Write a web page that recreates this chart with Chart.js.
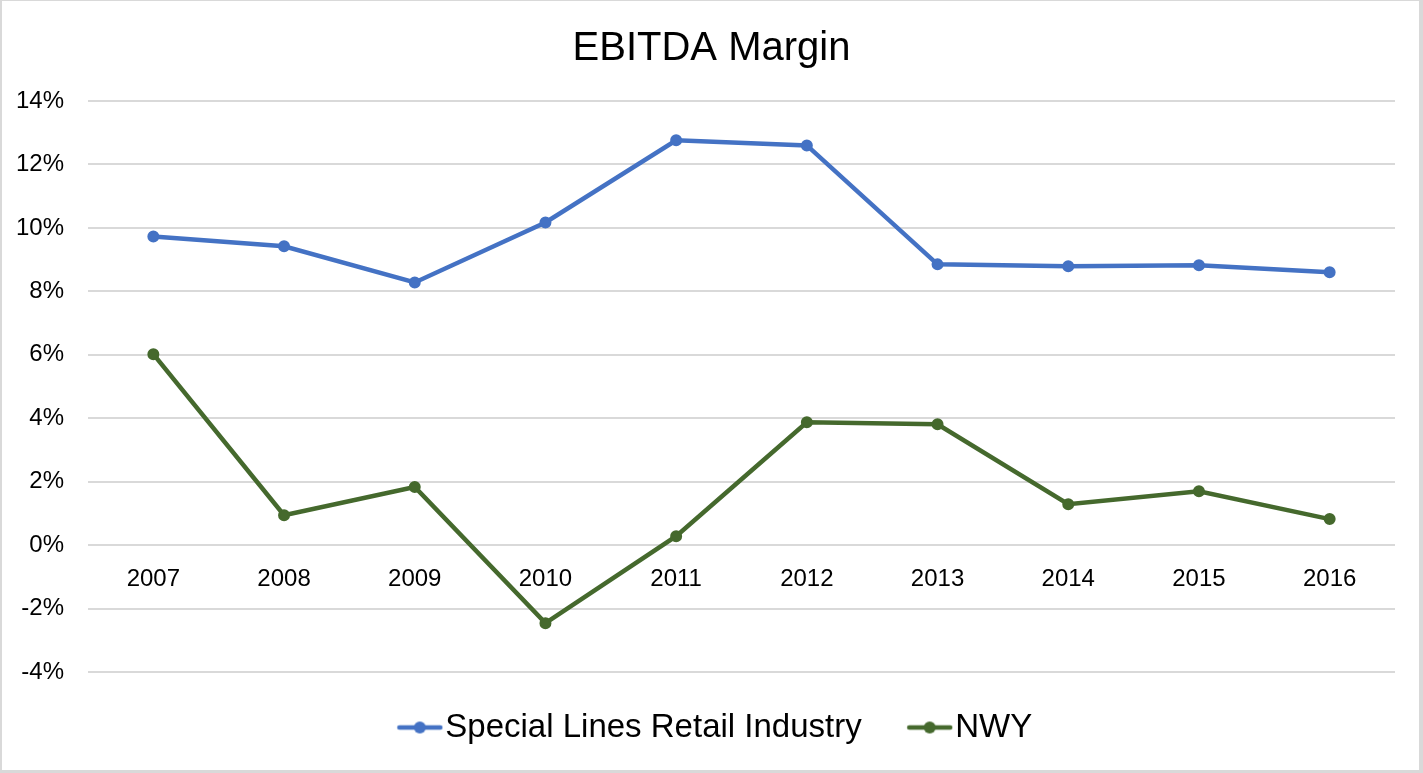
<!DOCTYPE html>
<html>
<head>
<meta charset="utf-8">
<script src="https://cdn.jsdelivr.net/npm/chart.js@4.4.1/dist/chart.umd.min.js"></script>
<style>
  html, body { margin: 0; padding: 0; background: #fff; }
  #wrap { width: 1423px; height: 773px; position: relative; }
  canvas { display: block; }
</style>
</head>
<body>
<div id="wrap"><canvas id="c" width="1423" height="773"></canvas></div>
<script>
const categories = ['2007', '2008', '2009', '2010', '2011', '2012', '2013', '2014', '2015', '2016'];
const specialLinesRetail = [9.73, 9.42, 8.28, 10.17, 12.76, 12.6, 8.85, 8.79, 8.82, 8.6];
const nwy = [6.02, 0.94, 1.83, -2.46, 0.28, 3.87, 3.81, 1.29, 1.7, 0.82];
const seriesNames = ['Special Lines Retail Industry', 'NWY'];
const yTicks = [-4, -2, 0, 2, 4, 6, 8, 10, 12, 14];

const BLUE = '#4472C4';
const GREEN = '#45692D';
const FONT = "'Liberation Sans', Arial, Helvetica, sans-serif";

// legend marker: a short line with a dot, drawn at the right end of a wider transparent canvas
function legendMarker(color) {
  const W = 67, H = 14;
  const c = document.createElement('canvas');
  c.width = W; c.height = H;
  const g = c.getContext('2d');
  g.strokeStyle = color;
  g.lineWidth = 4.5;
  g.lineCap = 'round';
  g.beginPath(); g.moveTo(W - 44, 7); g.lineTo(W - 3, 7); g.stroke();
  g.fillStyle = color;
  g.beginPath(); g.arc(W - 23.5, 7, 6, 0, Math.PI * 2); g.fill();
  return c;
}

const frame = {
  id: 'frame',
  beforeDraw(chart) {
    const ctx = chart.ctx, w = chart.width, h = chart.height;
    ctx.save();
    ctx.fillStyle = '#fff';
    ctx.fillRect(0, 0, w, h);
    ctx.fillStyle = '#d9d9d9';
    ctx.fillRect(0, 0, 2, h);
    ctx.fillRect(w - 4, 0, 4, h);
    ctx.fillRect(0, h - 3, w, 3);
    ctx.fillRect(0, 0, w, 1);
    ctx.restore();
  }
};

const markers = [legendMarker(BLUE), legendMarker(GREEN)];

function lineDataset(label, data, color) {
  return {
    label: label,
    data: data,
    borderColor: color,
    backgroundColor: color,
    borderWidth: 4.5,
    pointStyle: 'circle',
    pointRadius: 5,
    pointBorderWidth: 2,
    pointHoverRadius: 5,
    pointBackgroundColor: color,
    pointBorderColor: color,
    tension: 0
  };
}

new Chart(document.getElementById('c'), {
  type: 'line',
  data: {
    labels: categories,
    datasets: [
      lineDataset(seriesNames[0], specialLinesRetail, BLUE),
      lineDataset(seriesNames[1], nwy, GREEN)
    ]
  },
  options: {
    responsive: false,
    animation: false,
    devicePixelRatio: 1,
    layout: { padding: { left: 12, right: 12, top: 0, bottom: 19 } },
    plugins: {
      title: {
        display: true,
        text: 'EBITDA Margin',
        color: '#000',
        font: { family: FONT, size: 40, weight: 'normal' },
        padding: { top: 25, bottom: 28 }
      },
      legend: {
        display: true,
        position: 'bottom',
        labels: {
          color: '#000',
          font: { family: FONT, size: 33 },
          usePointStyle: true,
          pointStyleWidth: 38,
          padding: 39,
          generateLabels(chart) {
            return chart.data.datasets.map((ds, i) => ({
              text: ds.label,
              fillStyle: ds.borderColor,
              strokeStyle: ds.borderColor,
              lineWidth: 0,
              pointStyle: markers[i],
              hidden: false,
              datasetIndex: i,
              fontColor: '#000'
            }));
          }
        }
      },
      tooltip: { enabled: false }
    },
    scales: {
      x: {
        type: 'category',
        position: { y: 0 },
        offset: true,
        grid: { display: false, drawTicks: false },
        border: { display: false },
        ticks: {
          color: '#000',
          font: { family: FONT, size: 24 },
          padding: 19.5,
          maxRotation: 0,
          autoSkip: false
        },
        afterFit(scale) { scale.height = 0; }
      },
      y: {
        position: 'left',
        min: yTicks[0],
        max: yTicks[yTicks.length - 1],
        afterBuildTicks(scale) { scale.ticks = yTicks.map(v => ({ value: v })); },
        grid: { color: '#d9d9d9', lineWidth: 2, drawTicks: false },
        border: { display: false },
        ticks: {
          color: '#000',
          font: { family: FONT, size: 24 },
          padding: 24,
          callback: v => v + '%'
        },
        afterFit(scale) { scale.width = 76; }
      },
      yRightSpace: {
        type: 'linear',
        position: 'right',
        display: true,
        grid: { display: false, drawTicks: false },
        border: { display: false },
        ticks: { display: false },
        afterFit(scale) { scale.width = 16; }
      }
    }
  },
  plugins: [frame]
});
</script>
</body>
</html>
